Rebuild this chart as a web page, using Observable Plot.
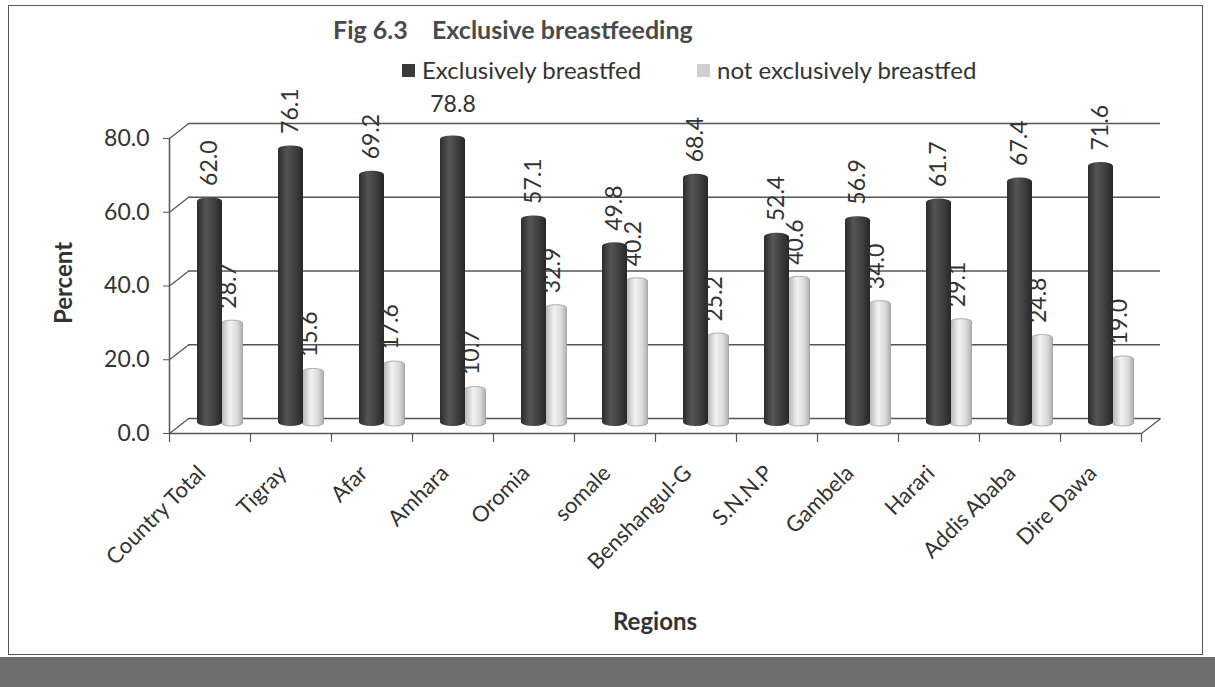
<!DOCTYPE html>
<html>
<head>
<meta charset="utf-8">
<script src="https://cdn.jsdelivr.net/npm/d3@7"></script>
<script src="https://cdn.jsdelivr.net/npm/@observablehq/plot@0.6"></script>
<style>
  body { margin: 0; background: #fff; font-family: Lato, "Open Sans", sans-serif; }
  #wrap { position: relative; width: 1215px; height: 687px; overflow: hidden; background: #fff; }
  #frame { position: absolute; left: 8px; top: 5px; width: 1193px; height: 648px; border: 1.5px solid #555; }
  #strip { position: absolute; left: 0; top: 657px; width: 1215px; height: 30px; background: #6e6e6e; }
  #title { position: absolute; left: 333px; top: 14px; font-weight: bold; font-size: 25px; line-height: 30px; color: #4a4a4a; white-space: pre; }
  .leg { position: absolute; top: 55px; height: 30px; font-size: 24px; line-height: 30px; color: #333; display: flex; align-items: center; white-space: pre; }
  .sw { width: 13px; height: 13px; margin-right: 7px; display: inline-block; }
  #ylab { position: absolute; left: 62px; top: 283px; transform: translate(-50%, -50%) rotate(-90deg); font-weight: bold; font-size: 24px; color: #333; }
  #xlab { position: absolute; left: 655px; top: 620px; transform: translate(-50%, -50%); font-weight: bold; font-size: 24px; color: #333; }
  #chart { position: absolute; left: 0; top: 70px; }
</style>
</head>
<body>
<div id="wrap">
  <div id="frame"></div>
  <div id="title">Fig 6.3    Exclusive breastfeeding</div>
  <div class="leg" style="left:402px"><span class="sw" style="background:#3a3a3a"></span>Exclusively breastfed</div>
  <div class="leg" style="left:697px"><span class="sw" style="background:#cfcfcf"></span>not exclusively breastfed</div>
  <div id="chart"></div>
  <div id="ylab">Percent</div>
  <div id="xlab">Regions</div>
  <div id="strip"></div>
</div>
<script>
const regions = ["Country Total", "Tigray", "Afar", "Amhara", "Oromia", "somale", "Benshangul-G", "S.N.N.P", "Gambela", "Harari", "Addis Ababa", "Dire Dawa"];
const exclusivelyBreastfed = [62.0, 76.1, 69.2, 78.8, 57.1, 49.8, 68.4, 52.4, 56.9, 61.7, 67.4, 71.6];
const notExclusivelyBreastfed = [28.7, 15.6, 17.6, 10.7, 32.9, 40.2, 25.2, 40.6, 34.0, 29.1, 24.8, 19.0];
const seriesNames = ["Exclusively breastfed", "not exclusively breastfed"];
const yTicks = [0, 20, 40, 60, 80];
// value label that the original chart shows horizontally, above its bar
const horizontalLabelRegions = ["Amhara"];

const dark = regions.map((r, i) => ({region: r, series: seriesNames[0], value: exclusivelyBreastfed[i]}));
const light = regions.map((r, i) => ({region: r, series: seriesNames[1], value: notExclusivelyBreastfed[i]}));
const darkRotated = dark.filter(d => !horizontalLabelRegions.includes(d.region));
const darkFlat = dark.filter(d => horizontalLabelRegions.includes(d.region));

const lineShape = {draw(ctx, l) { ctx.moveTo(0, 0); ctx.lineTo(0, -l); }};
const fmt = d => d.value.toFixed(1);

const plot = Plot.plot({
  width: 1215,
  height: 585,
  marginLeft: 169,
  marginRight: 74,
  marginTop: 68,
  marginBottom: 222,
  style: {fontFamily: "Lato, 'Open Sans', sans-serif", color: "#333", background: "transparent"},
  x: {domain: regions, padding: 0},
  y: {domain: [0, 80]},
  marks: [
    // back-wall gridlines (3D offset)
    Plot.gridY(yTicks, {stroke: "#555", strokeOpacity: 1, strokeWidth: 1.5, dx: 19, dy: -15}),
    Plot.vector(yTicks, {y: d => d, frameAnchor: "left", length: 24, rotate: 52, anchor: "start", shape: lineShape, stroke: "#555", strokeWidth: 1.2}),
    Plot.vector([0], {y: d => d, frameAnchor: "right", length: 24, rotate: 52, anchor: "start", shape: lineShape, stroke: "#555", strokeWidth: 1.2}),
    // front floor edge and y axis line
    Plot.ruleY([0], {stroke: "#555", strokeWidth: 1.5}),
    Plot.frame({anchor: "left", stroke: "#555", strokeWidth: 1.5}),
    // category separators
    Plot.ruleX(regions, {x: d => d, y1: 0, y2: 0, dx: -40.5, insetBottom: -9, stroke: "#555", strokeWidth: 1.2}),
    Plot.ruleX(regions.slice(-1), {x: d => d, y1: 0, y2: 0, dx: 40.5, insetBottom: -9, stroke: "#555", strokeWidth: 1.2}),
    // bars
    Plot.barY(light, {x: "region", y: "value", dx: 22.5, dy: -7, insetLeft: 30, insetRight: 30, fill: "url(#gLight)", stroke: "#9a9a9a", strokeWidth: 0.8, rx: 10, ry: 3}),
    Plot.barY(dark, {x: "region", y: "value", dy: -7, insetLeft: 28, insetRight: 28, fill: "url(#gDark)", rx: 12, ry: 4}),
    // value labels
    Plot.text(darkRotated, {x: "region", y: "value", text: fmt, rotate: -90, textAnchor: "start", lineAnchor: "middle", dy: -19, fontSize: 23, fill: "#333"}),
    Plot.text(darkFlat, {x: "region", y: "value", text: fmt, textAnchor: "middle", lineAnchor: "middle", dy: -38, fontSize: 23, fill: "#333"}),
    Plot.text(light, {x: "region", y: "value", text: fmt, rotate: -90, textAnchor: "start", lineAnchor: "middle", dx: 19, dy: -19, fontSize: 23, fill: "#333"}),
    // axes
    Plot.axisY({ticks: yTicks, tickFormat: d => d.toFixed(1), tickSize: 6, tickPadding: 14, fontSize: 23, label: null, stroke: "#555"}),
    Plot.axisX({tickSize: 0, tickPadding: 36, tickRotate: -45, dx: -8, fontSize: 22, label: null})
  ]
});

const svg = d3.select(plot);
const defs = svg.insert("defs", ":first-child");
const gd = defs.append("linearGradient").attr("id", "gDark").attr("x1", 0).attr("x2", 1).attr("y1", 0).attr("y2", 0);
[[0, "#2c2c2c"], [0.35, "#555555"], [0.7, "#3e3e3e"], [1, "#262626"]].forEach(([o, c]) => gd.append("stop").attr("offset", o).attr("stop-color", c));
const gl = defs.append("linearGradient").attr("id", "gLight").attr("x1", 0).attr("x2", 1).attr("y1", 0).attr("y2", 0);
[[0, "#b5b5b5"], [0.4, "#f2f2f2"], [0.75, "#dadada"], [1, "#b0b0b0"]].forEach(([o, c]) => gl.append("stop").attr("offset", o).attr("stop-color", c));

document.getElementById("chart").appendChild(plot);
</script>
</body>
</html>
